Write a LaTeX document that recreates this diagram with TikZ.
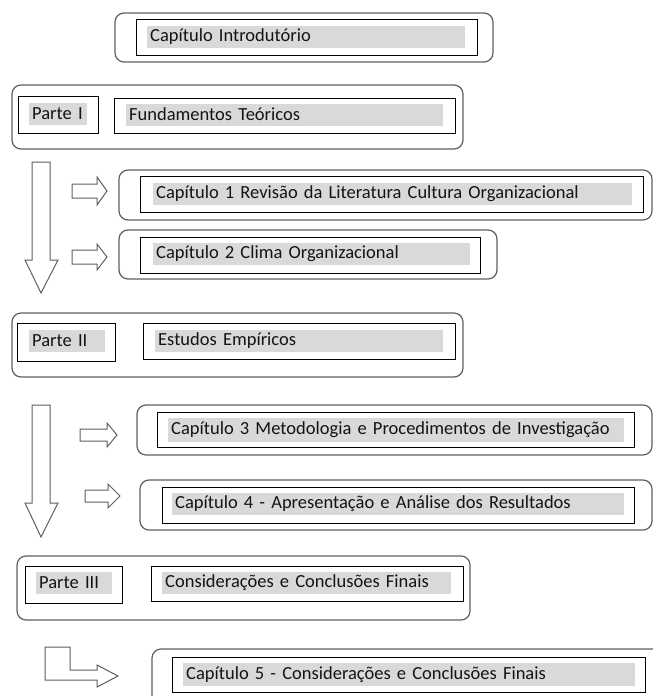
\documentclass[tikz,border=0pt]{standalone}
\usepackage{fontspec}
\setmainfont{Carlito}
\usepackage{tikz}
\definecolor{faixacinza}{RGB}{217,217,217}
\definecolor{bordacinza}{RGB}{95,95,95}

\begin{document}
\begin{tikzpicture}[x=1pt,y=-1pt,font=\fontsize{18.5}{20}\selectfont,text=black!92]
 \tikzstyle{moldura}=[draw=bordacinza,line width=1.2pt,rounded corners=9pt]
 \tikzstyle{caixa}=[draw=black,line width=1pt,rectangle]
 \tikzstyle{faixa}=[fill=faixacinza,anchor=west,align=left,inner xsep=3pt,inner ysep=0pt,minimum height=22pt]
 \tikzstyle{seta}=[draw=bordacinza,line width=1pt,fill=white,line join=miter]

 \useasboundingbox (0,0) rectangle (653,696);

   % capitulo introdutorio
   \node[moldura,minimum width=378pt,minimum height=49pt] (m0) at (304,37.5) {};
   \node[caixa,minimum width=341pt,minimum height=36pt] (intro) at (306.5,37) {};
   \node[faixa,text width=312pt] (introT) at (147,37) {Capítulo Introdutório};

   % parte I
   \node[moldura,minimum width=451pt,minimum height=64pt] (m1) at (237.5,117) {};
   \node[caixa,minimum width=80pt,minimum height=37pt] (parteI) at (58,114.5) {};
   \node[faixa,text width=52pt] (parteIT) at (29,113.5) {Parte I};
   \node[caixa,minimum width=341pt,minimum height=35pt] (fund) at (284.5,115.5) {};
   \node[faixa,text width=311pt] (fundT) at (126,114.5) {Fundamentos Teóricos};

   \node[moldura,minimum width=533pt,minimum height=50pt] (m2) at (385.5,195) {};
   \node[caixa,minimum width=503pt,minimum height=36pt] (cap1) at (391.5,194) {};
   \node[faixa,text width=473pt] (cap1T) at (153,193.5) {Capítulo 1 Revisão da Literatura Cultura Organizacional};

   \node[moldura,minimum width=378pt,minimum height=49pt] (m3) at (308,254.5) {};
   \node[caixa,minimum width=340pt,minimum height=36pt] (cap2) at (310,255) {};
   \node[faixa,text width=311pt] (cap2T) at (153,254) {Capítulo 2 Clima Organizacional};

   % parte II
   \node[moldura,minimum width=451pt,minimum height=64pt] (m4) at (237.5,345) {};
   \node[caixa,minimum width=98pt,minimum height=38pt] (parteII) at (66,342) {};
   \node[faixa,text width=70pt] (parteIIT) at (29,341) {Parte II};
   \node[caixa,minimum width=312pt,minimum height=36pt] (estudos) at (299,341) {};
   \node[faixa,text width=282pt] (estudosT) at (155,341) {Estudos Empíricos};

   \node[moldura,minimum width=515pt,minimum height=50pt] (m5) at (394.5,430) {};
   \node[caixa,minimum width=477pt,minimum height=35pt] (cap3) at (395.5,429.5) {};
   \node[faixa,text width=450pt,minimum height=24pt] (cap3T) at (168,430) {Capítulo 3 Metodologia e Procedimentos de Investigação};

   \node[moldura,minimum width=512pt,minimum height=50pt] (m6) at (396,505) {};
   \node[caixa,minimum width=472pt,minimum height=36pt] (cap4) at (398,505) {};
   \node[faixa,text width=446pt] (cap4T) at (172,504) {Capítulo 4 - Apresentação e Análise dos Resultados};

   % parte III
   \node[moldura,minimum width=453pt,minimum height=64pt] (m7) at (243.5,588) {};
   \node[caixa,minimum width=97pt,minimum height=37pt] (parteIII) at (73.5,584.5) {};
   \node[faixa,text width=70pt] (parteIIIT) at (36,582.5) {Parte III};
   \node[caixa,minimum width=312pt,minimum height=35pt] (consid) at (307,583.5) {};
   \node[faixa,text width=283pt] (considT) at (162,582.5) {Considerações e Conclusões Finais};

   \draw[moldura] (653,649) -| (152,696);
   \node[caixa,minimum width=473pt,minimum height=35pt] (cap5) at (408.5,674.5) {};
   \node[faixa,text width=446pt,minimum height=23pt] (cap5T) at (183,674.5) {Capítulo 5 - Considerações e Conclusões Finais};

   % setas
   \draw[seta] (32,162) -- (50,162) -- (50,260) -- (58,260) -- (41,293) -- (25,260) -- (32,260) -- cycle;
   \draw[seta] (32,405) -- (50,405) -- (50,503) -- (58,503) -- (41,537) -- (25,503) -- (32,503) -- cycle;
   \draw[seta] (72,184) -- (97,184) -- (97,177) -- (107,191) -- (97,205) -- (97,198) -- (72,198) -- cycle;
   \draw[seta] (72,250) -- (97,250) -- (97,244) -- (107,257) -- (97,270) -- (97,264) -- (72,264) -- cycle;
   \draw[seta] (80,429) -- (107,429) -- (107,423) -- (117,435) -- (107,447) -- (107,441) -- (80,441) -- cycle;
   \draw[seta] (85,490) -- (108,490) -- (108,484) -- (120,496) -- (108,508) -- (108,502) -- (85,502) -- cycle;
   \draw[seta] (45,647) -- (70,647) -- (70,670) -- (97,670) -- (97,665) -- (118,676) -- (97,687) -- (97,680) -- (45,680) -- cycle;

\end{tikzpicture}
\end{document}
